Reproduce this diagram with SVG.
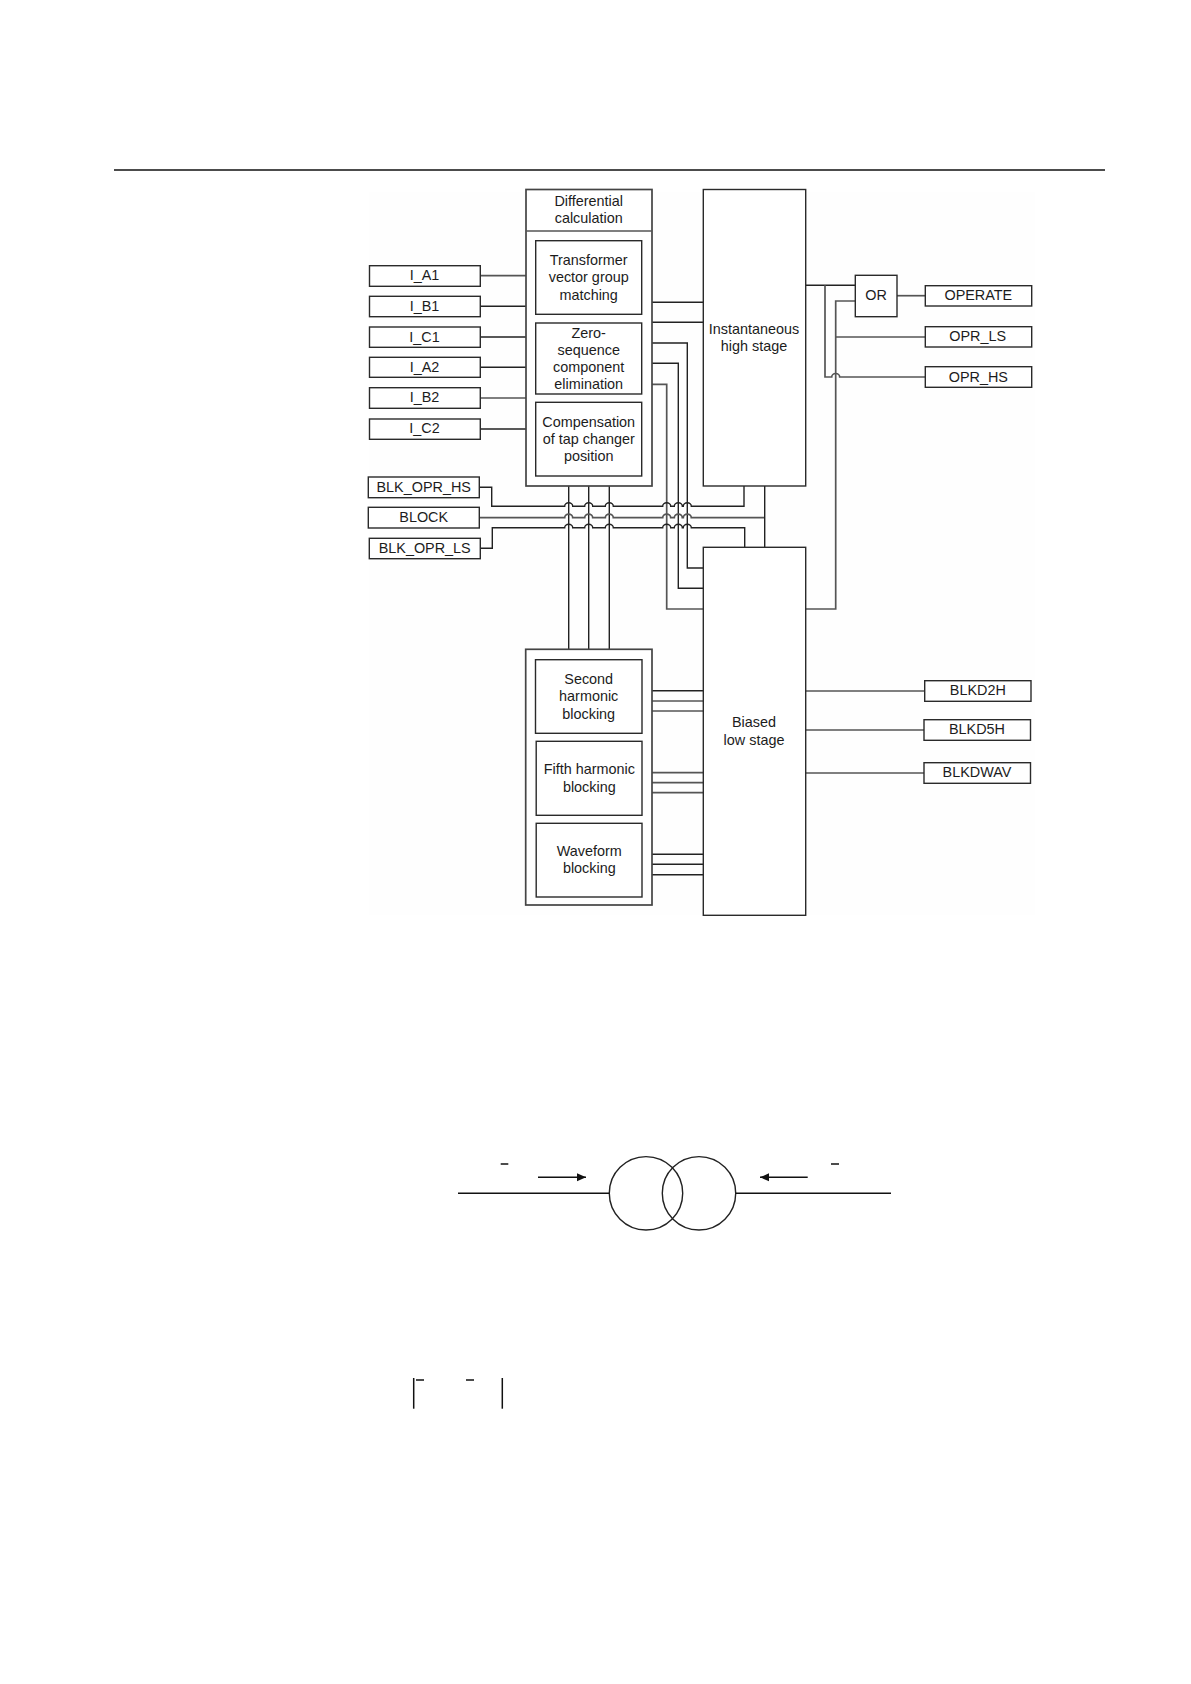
<svg xmlns="http://www.w3.org/2000/svg" width="1191" height="1684" viewBox="0 0 1191 1684">
<style>
text{font-family:"Liberation Sans",Arial,sans-serif;font-size:14.4px;fill:#1c1c1c;text-anchor:middle}
rect{fill:#fff;stroke:#2a2a2a;stroke-width:1.4}
.o{stroke:#444;stroke-width:1.7}
path,line,circle{fill:none;stroke:#222;stroke-width:1.4}
.g{stroke:#555;stroke-width:1.7}
.s{stroke:#111;stroke-width:1.5}
</style>
<defs><marker id="ah" markerUnits="userSpaceOnUse" markerWidth="9" markerHeight="9" refX="9" refY="4.5" orient="auto"><path d="M0 0.5L9 4.5L0 8.5Z" style="fill:#111;stroke:none"/></marker></defs>
<rect x="0" y="0" width="1191" height="1684" style="fill:#fff;stroke:none"/>
<rect x="369" y="192" width="666" height="723" style="fill:#fefefe;stroke:none"/>
<line x1="114" y1="170" x2="1105" y2="170" class="s"/>
<g id="connectors">
<path class="g" d="M480.3 275.7H526"/><path d="M480.3 306.3H526M480.3 337H526M480.3 367.3H526"/><path class="g" d="M480.3 398H526"/><path d="M480.3 429H526"/>
<path d="M652 302.3H703.3M652 322.3H703.3"/>
<path d="M652 343H687.3V568H703.3"/>
<path d="M652 363.3H678.3V588.3H703.3"/>
<path class="g" d="M652 384.3H666.7V609H703.3"/>
<path d="M568.7 486V649.7M588.7 486V649.7M609.3 486V649.7"/>
<path d="M479.3 487.3H491.7V506.3H564.7a4 3.5 0 0 1 8 0H584.7a4 3.5 0 0 1 8 0H605.3a4 3.5 0 0 1 8 0H662.7a4 3.5 0 0 1 8 0H674.3a4 3.5 0 0 1 8 0H683.3a4 3.5 0 0 1 8 0H744V486"/>
<path class="g" d="M479.3 517.7H564.7a4 3.5 0 0 1 8 0H584.7a4 3.5 0 0 1 8 0H605.3a4 3.5 0 0 1 8 0H662.7a4 3.5 0 0 1 8 0H674.3a4 3.5 0 0 1 8 0H683.3a4 3.5 0 0 1 8 0H764.7"/>
<path d="M764.7 486V547.3"/>
<path d="M480.3 548.3H492.3V527.7H564.7a4 3.5 0 0 1 8 0H584.7a4 3.5 0 0 1 8 0H605.3a4 3.5 0 0 1 8 0H662.7a4 3.5 0 0 1 8 0H674.3a4 3.5 0 0 1 8 0H683.3a4 3.5 0 0 1 8 0H744.7V547.3"/>
<path d="M805.7 285.3H855.3"/>
<path class="g" d="M825 285.3V377H831.7a4 3.5 0 0 1 8 0H925.3"/>
<path class="g" d="M805.7 609H835.7V301H855.3M835.7 337H925"/>
<path class="g" d="M897 295.7H925.3"/>
<path d="M652 690.7H703.3"/><path class="g" d="M652 701H703.3M652 711H703.3M652 772.7H703.3M652 782.7H703.3M652 792.7H703.3"/><path d="M652 854.3H703.3M652 864.3H703.3M652 874.7H703.3"/>
<path class="g" d="M805.7 691H924.7M805.7 730H924M805.7 773H924"/>
</g>
<g id="differential"><rect class="o" x="526" y="189.5" width="126" height="296.5"/><line class="g" x1="526" y1="231" x2="652" y2="231"/><text x="588.7" y="206">Differential</text><text x="588.7" y="223">calculation</text></g>
<g id="vector-group"><rect x="535.7" y="240.7" width="106" height="73.6"/><text x="588.7" y="265.3">Transformer</text><text x="588.7" y="282.3">vector group</text><text x="588.7" y="299.7">matching</text></g>
<g id="zero-seq"><rect x="535.7" y="323" width="106" height="71"/><text x="588.7" y="337.7">Zero-</text><text x="588.7" y="354.7">sequence</text><text x="588.7" y="372">component</text><text x="588.7" y="389.3">elimination</text></g>
<g id="tap"><rect x="535.7" y="402.3" width="106" height="73.7"/><text x="588.7" y="426.7">Compensation</text><text x="588.7" y="444">of tap changer</text><text x="588.7" y="461.3">position</text></g>
<g id="i-a1"><rect x="369.5" y="265.7" width="110.8" height="20.6"/><text x="424.5" y="280.3">I_A1</text></g>
<g id="i-b1"><rect x="369.5" y="296.3" width="110.8" height="20.4"/><text x="424.5" y="311">I_B1</text></g>
<g id="i-c1"><rect x="369.5" y="327" width="110.8" height="20.3"/><text x="424.5" y="341.6">I_C1</text></g>
<g id="i-a2"><rect x="369.5" y="357.3" width="110.8" height="20"/><text x="424.5" y="372">I_A2</text></g>
<g id="i-b2"><rect x="369.5" y="387.7" width="110.8" height="20.6"/><text x="424.5" y="402.3">I_B2</text></g>
<g id="i-c2"><rect x="369.5" y="419" width="110.8" height="20.3"/><text x="424.5" y="433.3">I_C2</text></g>
<g id="blk-opr-hs"><rect x="368.3" y="477" width="111" height="20.7"/><text x="423.7" y="492">BLK_OPR_HS</text></g>
<g id="block"><rect x="368.3" y="507.3" width="111" height="20.7"/><text x="423.7" y="522">BLOCK</text></g>
<g id="blk-opr-ls"><rect x="369.3" y="538.3" width="111" height="20.4"/><text x="424.7" y="552.7">BLK_OPR_LS</text></g>
<g id="instantaneous"><rect x="703.3" y="189.5" width="102.4" height="296.5"/><text x="754" y="334">Instantaneous</text><text x="754" y="351">high stage</text></g>
<g id="biased"><rect x="703.3" y="547.3" width="102.4" height="368"/><text x="754" y="727.3">Biased</text><text x="754" y="744.7">low stage</text></g>
<g id="or"><rect x="855.3" y="275.3" width="41.7" height="41.4"/><text x="876" y="300.3">OR</text></g>
<g id="operate"><rect x="925.3" y="285.7" width="106.4" height="20.3"/><text x="978.3" y="300.3">OPERATE</text></g>
<g id="opr-ls"><rect x="925.3" y="326.7" width="106.4" height="20.3"/><text x="977.7" y="341.3">OPR_LS</text></g>
<g id="opr-hs"><rect x="925.3" y="366.7" width="106.4" height="20.6"/><text x="978.3" y="381.7">OPR_HS</text></g>
<g id="blocking"><rect class="o" x="525.7" y="649.3" width="126.3" height="255.7"/></g>
<g id="second"><rect x="535.5" y="659.7" width="106.5" height="73.6"/><text x="588.7" y="684">Second</text><text x="588.7" y="701.3">harmonic</text><text x="588.7" y="718.7">blocking</text></g>
<g id="fifth"><rect x="536.2" y="741.3" width="105.8" height="74"/><text x="589.3" y="774.3">Fifth harmonic</text><text x="589.3" y="792">blocking</text></g>
<g id="waveform"><rect x="536.2" y="823.3" width="105.8" height="73.7"/><text x="589.3" y="856">Waveform</text><text x="589.3" y="873.3">blocking</text></g>
<g id="blkd2h"><rect x="924.7" y="680.7" width="106.3" height="20.6"/><text x="977.8" y="695.3">BLKD2H</text></g>
<g id="blkd5h"><rect x="924" y="719.7" width="106.5" height="20.6"/><text x="977" y="734.3">BLKD5H</text></g>
<g id="blkdwav"><rect x="924" y="762.7" width="106.5" height="20.6"/><text x="977" y="777.3">BLKDWAV</text></g>
<g id="transformer">
<circle cx="646" cy="1193.3" r="36.7"/><circle cx="699" cy="1193.3" r="36.7"/>
<line class="s" x1="458" y1="1193.3" x2="609.3" y2="1193.3"/><line class="s" x1="735.7" y1="1193.3" x2="891" y2="1193.3"/>
<line class="s" x1="538" y1="1177.3" x2="586" y2="1177.3" marker-end="url(#ah)"/><line class="s" x1="807.7" y1="1177.3" x2="760" y2="1177.3" marker-end="url(#ah)"/>
<line class="s" x1="500.7" y1="1164" x2="508.3" y2="1164"/><line class="s" x1="831" y1="1164" x2="839" y2="1164"/>
</g>
<g id="formula">
<line class="s" x1="413.7" y1="1378" x2="413.7" y2="1408.7"/><line class="s" x1="502.3" y1="1378" x2="502.3" y2="1408.7"/>
<line class="s" x1="416" y1="1380" x2="424" y2="1380"/><line class="s" x1="466" y1="1380" x2="474" y2="1380"/>
</g>
</svg>
